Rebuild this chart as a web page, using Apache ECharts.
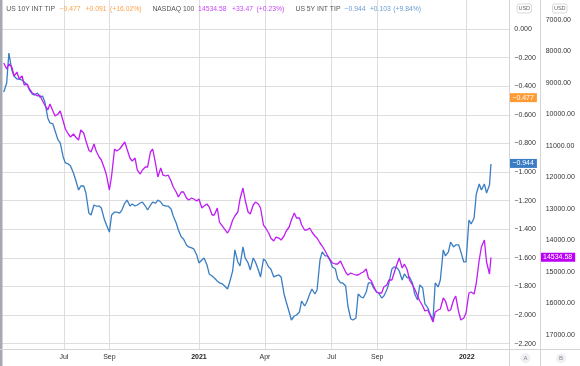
<!DOCTYPE html>
<html><head><meta charset="utf-8">
<script src="https://cdn.jsdelivr.net/npm/echarts@6/dist/echarts.min.js"></script>
<style>html,body{margin:0;padding:0;background:#fff}#c{width:580px;height:366px}</style>
</head><body><div id="c"></div>
<script>
// ---------- data ----------
// Friday closes
const dates = ['2020-04-10','2020-04-17','2020-04-24','2020-05-01','2020-05-08','2020-05-15','2020-05-22','2020-05-29','2020-06-05','2020-06-12','2020-06-19','2020-06-26','2020-07-03','2020-07-10','2020-07-17','2020-07-24','2020-07-31','2020-08-07','2020-08-14','2020-08-21','2020-08-28','2020-09-04','2020-09-11','2020-09-18','2020-09-25','2020-10-02','2020-10-09','2020-10-16','2020-10-23','2020-10-30','2020-11-06','2020-11-13','2020-11-20','2020-11-27','2020-12-04','2020-12-11','2020-12-18','2020-12-25',
'2021-01-01','2021-01-08','2021-01-15','2021-01-22','2021-01-29','2021-02-05','2021-02-12','2021-02-19','2021-02-26','2021-03-05','2021-03-12','2021-03-19','2021-03-26','2021-04-02','2021-04-09','2021-04-16','2021-04-23','2021-04-30','2021-05-07','2021-05-14','2021-05-21','2021-05-28','2021-06-04','2021-06-11','2021-06-18','2021-06-25','2021-07-02','2021-07-09','2021-07-16','2021-07-23','2021-07-30','2021-08-06','2021-08-13','2021-08-20','2021-08-27','2021-09-03','2021-09-10','2021-09-17','2021-09-24','2021-10-01','2021-10-08','2021-10-15','2021-10-22','2021-10-29','2021-11-05','2021-11-12','2021-11-19','2021-11-26','2021-12-03','2021-12-10','2021-12-17','2021-12-24','2021-12-31',
'2022-01-07','2022-01-14','2022-01-21','2022-01-28','2022-02-03'];

const tip5y = [-0.441,-0.168,-0.329,-0.350,-0.371,-0.427,-0.462,-0.476,-0.510,-0.657,
-0.713,-0.797,-0.937,-0.958,-1.056,-1.098,-1.147,-1.301,-1.238,-1.252,
-1.371,-1.301,-1.280,-1.266,-1.196,-1.224,-1.231,-1.210,-1.266,-1.210,
-1.196,-1.231,-1.238,-1.308,-1.406,-1.469,-1.524,-1.538,-1.636,-1.601,
-1.713,-1.741,-1.776,-1.797,-1.769,-1.545,-1.657,-1.601,-1.685,-1.629,
-1.734,-1.622,-1.678,-1.727,-1.734,-1.909,-2.035,-2.000,-1.902,-1.909,
-1.818,-1.825,-1.559,-1.587,-1.664,-1.748,-1.776,-1.937,-2.035,-1.853,
-1.881,-1.776,-1.811,-1.846,-1.867,-1.776,-1.664,-1.692,-1.713,-1.734,
-1.853,-1.790,-1.923,-1.993,-1.776,-1.755,-1.587,-1.490,-1.510,-1.559,
-1.629,-1.364,-1.154,-1.126,-1.147,-0.944];

const ndx = [8365,8397,8778,8873,9063,9190,9349,9381,9698,9667,
10048,9889,10460,10714,10714,10492,10841,11190,11159,11444,
11921,11952,11159,11000,11095,11476,11762,11762,11667,11095,
11984,11921,11921,12302,12619,12460,12714,12683,12683,12905,
12937,13190,13413,13635,13635,13222,12683,12714,13159,12778,
12968,13603,13921,13889,13984,13698,13349,13286,13508,13667,
13730,13921,14175,14460,14714,14746,14810,15095,15063,15095,
15000,15190,15444,15667,15476,15254,15032,14556,14746,15254,
15540,15921,16238,16365,16270,16175,15921,16206,15762,16524,
16302,15635,15349,14206,14683,14534.58];

// Tuesday readings
const datesMid = ['2020-04-14','2020-04-21','2020-04-28','2020-05-05','2020-05-12','2020-05-19','2020-05-26','2020-06-02','2020-06-09','2020-06-16','2020-06-23','2020-06-30','2020-07-07','2020-07-14','2020-07-21','2020-07-28','2020-08-04','2020-08-11','2020-08-18','2020-08-25','2020-09-01','2020-09-08','2020-09-15','2020-09-22','2020-09-29','2020-10-06','2020-10-13','2020-10-20','2020-10-27','2020-11-03','2020-11-10','2020-11-17','2020-11-24','2020-12-01','2020-12-08','2020-12-15','2020-12-22','2020-12-29',
'2021-01-05','2021-01-12','2021-01-19','2021-01-26','2021-02-02','2021-02-09','2021-02-16','2021-02-23','2021-03-02','2021-03-09','2021-03-16','2021-03-23','2021-03-30','2021-04-06','2021-04-13','2021-04-20','2021-04-27','2021-05-04','2021-05-11','2021-05-18','2021-05-25','2021-06-01','2021-06-08','2021-06-15','2021-06-22','2021-06-29','2021-07-06','2021-07-13','2021-07-20','2021-07-27','2021-08-03','2021-08-10','2021-08-17','2021-08-24','2021-08-31','2021-09-07','2021-09-14','2021-09-21','2021-09-28','2021-10-05','2021-10-12','2021-10-19','2021-10-26','2021-11-02','2021-11-09','2021-11-16','2021-11-23','2021-11-30','2021-12-07','2021-12-14','2021-12-21','2021-12-28',
'2022-01-04','2022-01-11','2022-01-18','2022-01-25','2022-02-01'];

const tip5yMid = [-0.378,-0.287,-0.350,-0.357,-0.392,-0.455,-0.448,-0.469,-0.622,-0.664,
-0.776,-0.895,-0.944,-1.007,-1.126,-1.098,-1.287,-1.231,-1.238,-1.329,
-1.420,-1.280,-1.287,-1.217,-1.238,-1.238,-1.217,-1.238,-1.231,-1.217,
-1.210,-1.238,-1.259,-1.357,-1.455,-1.510,-1.531,-1.580,-1.615,-1.650,
-1.727,-1.762,-1.783,-1.818,-1.692,-1.629,-1.524,-1.636,-1.601,-1.685,
-1.608,-1.664,-1.734,-1.720,-1.853,-1.979,-2.007,-1.979,-1.937,-1.853,
-1.853,-1.615,-1.587,-1.622,-1.678,-1.776,-1.797,-2.028,-2.021,-1.874,
-1.839,-1.776,-1.839,-1.881,-1.825,-1.678,-1.671,-1.755,-1.741,-1.776,
-1.895,-1.811,-1.951,-2.035,-1.804,-1.545,-1.559,-1.524,-1.510,-1.629,
-1.336,-1.322,-1.084,-1.084,-1.091];

const ndxMid = [8556,8492,8651,8778,9032,9317,9413,9571,9857,9889,
9984,10206,10619,10619,10810,10587,11127,10937,11349,11698,
12397,11095,11095,10873,11381,11381,11889,11667,11190,11571,
11698,11952,12111,12460,12460,12651,12651,12746,12968,12841,
13190,12968,13540,13762,13349,13095,12333,13095,12873,12841,
13508,13762,14016,13921,13857,13571,13127,13286,13667,13603,
13857,14079,14333,14619,14746,14651,15000,15032,15095,15032,
14905,15286,15635,15667,15413,15254,14746,14873,14937,15413,
15762,16079,16206,16587,16206,15825,16238,15889,16270,16460,
15667,15698,14619,13984,15063];

const tip10yLast = -0.477;

const xTickDates = ['2020-07-01','2020-09-01','2021-01-01','2021-04-01','2021-07-01','2021-09-01','2022-01-01'];
const xTickLabels = ['Jul','Sep','2021','Apr','Jul','Sep','2022'];
const yTicksA = [0,-0.2,-0.4,-0.6,-0.8,-1.0,-1.2,-1.4,-1.6,-1.8,-2.0,-2.2];
const yTicksB = [7000,8000,9000,10000,11000,12000,13000,14000,15000,16000,17000];

const legendNames = ['US 10Y INT TIP','NASDAQ 100','US 5Y INT TIP'];
const legendValues = [['\u22120.477','+0.091','(+16.02%)'],['14534.58','+33.47','(+0.23%)'],['\u22120.944','+0.103','(+9.84%)']];

// ---------- chart ----------
const FONT = '"Liberation Sans", Arial, sans-serif';
const C_BLUE = '#3A7EC2', C_PURPLE = '#C01CF5', C_ORANGE = '#FF9B35';
const fmtA = v => (v < -1e-9 ? '\u2212' : '') + Math.abs(v).toFixed(3);
const toMs = d => echarts.number.parseDate(d).getTime();
const tickTimes = xTickDates.map(toMs);

function merged(dA, vA, dB, vB) {
  const rows = dA.map((d, i) => [toMs(d), vA[i]]).concat(dB.map((d, i) => [toMs(d), vB[i]]));
  rows.sort((a, b) => a[0] - b[0]);
  return rows;
}
const blueData = merged(dates, tip5y, datesMid, tip5yMid);
const purpleData = merged(dates, ndx, datesMid, ndxMid);
const lastX = toMs(dates[dates.length - 1]);

function priceMark(bg, value, txt, dist) {
  return {
    silent: true, symbol: ['none', 'none'], animation: false,
    lineStyle: {color: 'rgba(0,0,0,0)', width: 0, type: 'solid'},
    data: [{yAxis: value}],
    label: {
      show: true, position: 'end', distance: dist,
      formatter: () => txt,
      backgroundColor: bg, color: '#fff', padding: [1, 3, 0, 3],
      fontSize: 7, lineHeight: 8, fontFamily: FONT, opacity: 1
    }
  };
}

const legendGraphics = [];
const nameX = [6.3, 152.4, 295.5];
const valX = [[59.5, 85.5, 110], [198.1, 232, 256.5], [344.6, 369.9, 393.3]];
const valCol = ['#FFA24A', '#CB4AF6', '#6A9ED4'];
legendNames.forEach((n, i) => {
  legendGraphics.push({type:'text', x:nameX[i], y:9.5, z:110, style:{text:n, fill:'#555', font:'6.8px ' + FONT, textVerticalAlign:'middle', verticalAlign:'middle'}});
  legendValues[i].forEach((t, j) => {
    legendGraphics.push({type:'text', x:valX[i][j], y:9.5, z:110, style:{text:t, fill:valCol[i], font:'6.8px ' + FONT, textVerticalAlign:'middle', verticalAlign:'middle'}});
  });
});

const chart = echarts.init(document.getElementById('c'), null, {renderer:'canvas'});
chart.setOption({
  animation: false,
  backgroundColor: '#fff',
  grid: {left: 0, right: 70.7, top: 0, bottom: 17, containLabel: false},
  xAxis: {
    type: 'value',
    min: toMs('2020-04-05') - 2.4 * 3600e3,
    max: toMs('2022-02-28'),
    axisLine: {show: false},
    axisTick: {show: false, customValues: tickTimes},
    splitLine: {show: true, lineStyle: {color: '#DEDEDE', width: 1}},
    axisLabel: {
      customValues: tickTimes,
      margin: 5, fontSize: 7, color: '#333', fontFamily: FONT,
      formatter: function (v) {
        let k = 0, best = Infinity;
        tickTimes.forEach((t, i) => { const d = Math.abs(t - v); if (d < best) { best = d; k = i; } });
        const s = xTickLabels[k];
        return /^\d{4}$/.test(s) ? '{y|' + s + '}' : s;
      },
      rich: {y: {fontWeight: 'bold', fontSize: 7, color: '#222', fontFamily: FONT}}
    }
  },
  yAxis: [{
    type: 'value', position: 'right', min: -2.2378, max: 0.2028,
    axisLine: {show: false},
    axisTick: {show: false, customValues: yTicksA},
    splitLine: {show: true, lineStyle: {color: '#DEDEDE', width: 1}},
    axisLabel: {customValues: yTicksA, formatter: fmtA, margin: 5, align: 'left', fontSize: 7, color: '#333', fontFamily: FONT}
  }, {
    type: 'value', position: 'right', offset: 30.7, inverse: true, min: 6365, max: 17444,
    axisLine: {show: false},
    axisTick: {show: false, customValues: yTicksB},
    splitLine: {show: false},
    axisLabel: {customValues: yTicksB, formatter: v => v.toFixed(2), margin: 5.7, align: 'left', fontSize: 7, color: '#333', fontFamily: FONT}
  }],
  series: [{
    name: 'US 10Y INT TIP', type: 'line', yAxisIndex: 0,
    data: [[lastX, tip10yLast]], symbol: 'none', showSymbol: false,
    lineStyle: {color: C_ORANGE, width: 0}, clip: false, silent: true,
    markLine: priceMark(C_ORANGE, tip10yLast, fmtA(tip10yLast), 0)
  }, {
    name: 'US 5Y INT TIP', type: 'line', yAxisIndex: 0,
    data: blueData, symbol: 'none', showSymbol: false,
    lineStyle: {color: C_BLUE, width: 1.3}, itemStyle: {color: C_BLUE}, clip: false,
    markLine: priceMark('#3A7DC3', tip5y[tip5y.length - 1], fmtA(tip5y[tip5y.length - 1]), 0)
  }, {
    name: 'NASDAQ 100', type: 'line', yAxisIndex: 1,
    data: purpleData, symbol: 'none', showSymbol: false,
    lineStyle: {color: C_PURPLE, width: 1.3}, itemStyle: {color: C_PURPLE}, clip: false,
    markLine: priceMark('#BC00F5', ndx[ndx.length - 1], ndx[ndx.length - 1].toFixed(2), 30.7)
  }],
  graphic: [
    {type:'rect', shape:{x:0, y:0, width:2.5, height:366}, style:{fill:'#A6A9B1'}, z:100},
    {type:'line', shape:{x1:0, y1:349.5, x2:580, y2:349.5}, style:{stroke:'#D4D4D4', lineWidth:1}, z:100},
    {type:'line', shape:{x1:509.5, y1:0, x2:509.5, y2:366}, style:{stroke:'#D4D4D4', lineWidth:1}, z:100},
    {type:'line', shape:{x1:540.5, y1:0, x2:540.5, y2:366}, style:{stroke:'#D4D4D4', lineWidth:1}, z:100},
    {type:'rect', shape:{x:517, y:4, width:14.5, height:9, r:2}, style:{fill:'#fff', stroke:'#CFCFCF', lineWidth:0.8}, z:100},
    {type:'text', x:524.25, y:8.6, style:{text:'USD', fill:'#666', font:'5.5px ' + FONT, textAlign:'center', align:'center', textVerticalAlign:'middle', verticalAlign:'middle'}, z:101},
    {type:'rect', shape:{x:552.5, y:4, width:14.5, height:9, r:2}, style:{fill:'#fff', stroke:'#CFCFCF', lineWidth:0.8}, z:100},
    {type:'text', x:559.75, y:8.6, style:{text:'USD', fill:'#666', font:'5.5px ' + FONT, textAlign:'center', align:'center', textVerticalAlign:'middle', verticalAlign:'middle'}, z:101},
    {type:'circle', shape:{cx:525.5, cy:358.3, r:5}, style:{fill:'#EEF0F4'}, z:100},
    {type:'text', x:525.5, y:358.5, style:{text:'A', fill:'#888', font:'6px ' + FONT, textAlign:'center', align:'center', textVerticalAlign:'middle', verticalAlign:'middle'}, z:101},
    {type:'circle', shape:{cx:561, cy:358.3, r:5}, style:{fill:'#EEF0F4'}, z:100},
    {type:'text', x:561, y:358.5, style:{text:'B', fill:'#888', font:'6px ' + FONT, textAlign:'center', align:'center', textVerticalAlign:'middle', verticalAlign:'middle'}, z:101}
  ].concat(legendGraphics)
});
</script>
</body></html>
